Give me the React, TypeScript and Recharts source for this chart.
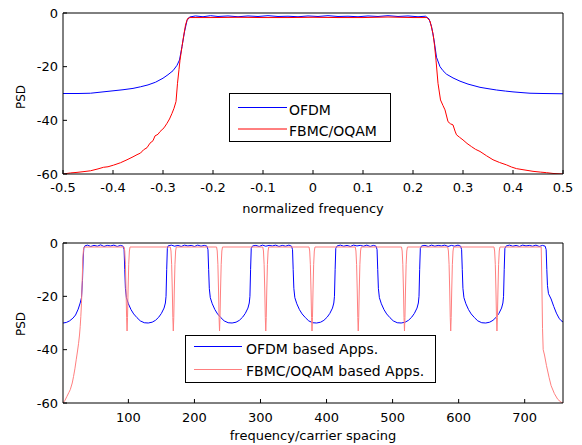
import React from 'react';
import { LineChart, Line, XAxis, YAxis } from 'recharts';

// tick labels
const normFreqTicks = [-0.5, -0.4, -0.3, -0.2, -0.1, 0, 0.1, 0.2, 0.3, 0.4, 0.5];
const spacingTicks = [100, 200, 300, 400, 500, 600, 700];
const psdTicks = [-60, -40, -20, 0];

// top panel: single carrier, [normalized frequency, PSD dB]
const ofdmPsd: [number, number][] = [
  [-0.5, -30], [-0.47, -30], [-0.445, -29.9], [-0.42, -29.4], [-0.4, -29], [-0.38, -28.6],
  [-0.36, -28.1], [-0.345, -27.5], [-0.33, -26.8], [-0.315, -25.8], [-0.3, -24.3], [-0.29, -23],
  [-0.28, -21.5], [-0.272, -19.5], [-0.267, -17.5], [-0.262, -12.5], [-0.257, -7], [-0.252, -2.8],
  [-0.247, -1.5], [-0.235, -1.1], [-0.22, -1.4], [-0.205, -1.0], [-0.19, -1.3], [-0.17, -1.1],
  [-0.15, -1.4], [-0.13, -1.1], [-0.11, -1.3], [-0.09, -1.0], [-0.07, -1.3], [-0.05, -1.2],
  [-0.03, -1.4], [-0.01, -1.1], [0.01, -1.3], [0.03, -1.0], [0.05, -1.3], [0.07, -1.2],
  [0.09, -1.4], [0.11, -1.1], [0.13, -1.3], [0.15, -1.0], [0.17, -1.3], [0.19, -1.1],
  [0.21, -1.4], [0.225, -1.2], [0.232, -2.2], [0.237, -5], [0.242, -10], [0.247, -16.5],
  [0.254, -20], [0.26, -21.5], [0.267, -22.8], [0.28, -24.2], [0.294, -25.4], [0.31, -26.5],
  [0.334, -27.7], [0.35, -28.2], [0.367, -28.7], [0.385, -29.1], [0.4, -29.4], [0.42, -29.7],
  [0.434, -29.9], [0.46, -30], [0.5, -30.1],
];

const fbmcPsd: [number, number][] = [
  [-0.5, -60], [-0.485, -59.6], [-0.472, -59.4], [-0.458, -59.1], [-0.445, -58.8], [-0.43, -58.1],
  [-0.419, -57.5], [-0.41, -57.3], [-0.399, -56.7], [-0.385, -55.8], [-0.372, -54.7], [-0.36, -53.6],
  [-0.352, -52.8], [-0.345, -52.2], [-0.339, -51.0], [-0.332, -50.2], [-0.326, -48.5], [-0.32, -47.6],
  [-0.316, -45.8], [-0.31, -45.2], [-0.306, -44.2], [-0.298, -42.8], [-0.292, -41.1], [-0.287, -39.5],
  [-0.282, -37.4], [-0.278, -35.5], [-0.274, -33], [-0.271, -26.2], [-0.268, -21], [-0.266, -17.6],
  [-0.262, -12.5], [-0.259, -8.9], [-0.255, -4.5], [-0.251, -2.1], [-0.246, -1.7], [-0.2, -1.7],
  [-0.15, -1.6], [-0.1, -1.7], [-0.05, -1.7], [0, -1.6], [0.05, -1.7], [0.1, -1.7],
  [0.15, -1.5], [0.2, -1.7], [0.228, -1.7], [0.234, -3], [0.24, -7.7], [0.243, -12],
  [0.246, -17.6], [0.25, -26.2], [0.255, -32.4], [0.26, -34.5], [0.264, -36.1], [0.27, -40.5],
  [0.275, -41.3], [0.28, -41.7], [0.284, -44], [0.287, -45.4], [0.293, -46.3], [0.3, -47.3],
  [0.308, -48.6], [0.317, -49.8], [0.325, -50.8], [0.334, -51.6], [0.347, -53.2], [0.36, -54.7],
  [0.373, -55.7], [0.387, -56.6], [0.397, -57.4], [0.407, -58], [0.42, -58.4], [0.44, -59],
  [0.455, -59.3], [0.467, -59.5], [0.48, -59.8], [0.5, -60],
];

// bottom panel: several apps side by side, [frequency / carrier spacing, PSD dB]
const ofdmApps: [number, number][] = [
  [1, -30], [6, -29.8], [11, -29.2], [16, -28.2], [20, -27], [24, -24.8], [27, -22.5], [29, -20.5],
  [30.5, -14], [31.5, -6], [32.5, -2],
  [34, -1.1], [38, -0.8], [43, -1.3], [48, -0.9], [53, -1.2], [58, -0.7], [63, -1.3], [68, -0.9],
  [73, -1.1], [78, -0.8], [83, -1.3], [88, -0.9], [92, -1.2],
  [93.5, -2.5], [94.5, -10], [95.5, -17], [97, -20.5], [100, -22.8], [104, -25], [108, -26.6],
  [113, -28], [118, -29.2], [124, -29.9], [130, -30], [136, -29.7], [141, -29], [146, -27.8],
  [150, -26.4], [154, -24.4], [156, -22.5], [157, -20], [158, -10], [159, -2],
  [160, -1.1], [165, -0.8], [170, -1.2], [175, -0.9], [180, -1.3], [185, -0.8], [190, -1.1],
  [195, -0.9], [200, -1.3], [205, -0.8], [210, -1.2], [215, -0.9], [219, -1.2],
  [220.5, -2.5], [221.5, -10], [222.5, -17], [224, -20.5], [227, -22.8], [231, -25], [235, -26.6],
  [240, -28], [245, -29.2], [251, -29.9], [257, -30], [263, -29.7], [268, -29], [273, -27.8],
  [277, -26.4], [281, -24.4], [283, -22.5], [284, -20], [285, -10], [286, -2],
  [288, -1.1], [293, -0.9], [298, -1.3], [303, -0.8], [308, -1.2], [313, -0.9], [318, -1.1],
  [323, -0.8], [328, -1.3], [333, -0.9], [338, -1.2], [343, -0.8], [347, -1.2],
  [348.5, -2.5], [349.5, -10], [350.5, -17], [352, -20.5], [355, -22.8], [359, -25], [363, -26.6],
  [368, -28], [373, -29.2], [379, -29.9], [385, -30], [391, -29.7], [396, -29], [401, -27.8],
  [405, -26.4], [409, -24.4], [411, -22.5], [412, -20], [413, -10], [414, -2],
  [416, -1.1], [421, -0.8], [426, -1.2], [431, -0.9], [436, -1.3], [441, -0.8], [446, -1.1],
  [451, -0.9], [456, -1.2], [461, -0.8], [466, -1.3], [471, -0.9], [475, -1.2],
  [476.5, -2.5], [477.5, -10], [478.5, -17], [480, -20.5], [483, -22.8], [487, -25], [491, -26.6],
  [496, -28], [501, -29.2], [507, -29.9], [513, -30], [519, -29.7], [524, -29], [529, -27.8],
  [533, -26.4], [537, -24.4], [539, -22.5], [540, -20], [541, -10], [542, -2],
  [544, -1.1], [549, -0.9], [554, -1.3], [559, -0.8], [564, -1.2], [569, -0.9], [574, -1.1],
  [579, -0.8], [584, -1.3], [589, -0.9], [594, -1.2], [599, -0.8], [603, -1.2],
  [604.5, -2.5], [605.5, -10], [606.5, -17], [608, -20.5], [611, -22.8], [615, -25], [619, -26.6],
  [624, -28], [629, -29.2], [635, -29.9], [641, -30], [647, -29.7], [652, -29], [657, -27.8],
  [661, -26.4], [665, -24.4], [667, -22.5], [668, -20], [669, -10], [670, -2],
  [672, -1.1], [677, -0.8], [682, -1.2], [687, -0.9], [692, -1.3], [697, -0.8], [702, -1.1],
  [707, -0.9], [712, -1.2], [717, -0.8], [722, -1.3], [727, -0.9], [731, -1.2],
  [732.5, -2.5], [733.5, -10], [734.5, -16], [736, -19], [740, -21], [744, -23.8], [748, -26.3],
  [752, -28.2], [755, -29.1], [758, -29.6],
];

const fbmcApps: [number, number][] = [
  [1, -60], [4, -59], [7, -57.5], [10, -56], [12, -55], [15, -52.5], [17, -50], [19, -47.2],
  [21, -43.8], [23, -40.5], [24.6, -37.6], [26, -34.5], [27, -31.4], [28, -27.5], [29, -22.6],
  [30, -15], [31, -6], [32, -2.5], [33, -1.5],
  [93.5, -1.5], [94.5, -3], [95.5, -8], [96.5, -18], [97.3, -28], [98, -33], [98.7, -28],
  [99.5, -18], [100.5, -8], [101.5, -3], [102.5, -1.5],
  [163.5, -1.5], [164.5, -3], [165.5, -8], [166.5, -18], [167.3, -28], [168, -33], [168.7, -28],
  [169.5, -18], [170.5, -8], [171.5, -3], [172.5, -1.5],
  [233.5, -1.5], [234.5, -3], [235.5, -8], [236.5, -18], [237.3, -28], [238, -33], [238.7, -28],
  [239.5, -18], [240.5, -8], [241.5, -3], [242.5, -1.5],
  [303.5, -1.5], [304.5, -3], [305.5, -8], [306.5, -18], [307.3, -28], [308, -33], [308.7, -28],
  [309.5, -18], [310.5, -8], [311.5, -3], [312.5, -1.5],
  [373.5, -1.5], [374.5, -3], [375.5, -8], [376.5, -18], [377.3, -28], [378, -33], [378.7, -28],
  [379.5, -18], [380.5, -8], [381.5, -3], [382.5, -1.5],
  [443.5, -1.5], [444.5, -3], [445.5, -8], [446.5, -18], [447.3, -28], [448, -33], [448.7, -28],
  [449.5, -18], [450.5, -8], [451.5, -3], [452.5, -1.5],
  [513.5, -1.5], [514.5, -3], [515.5, -8], [516.5, -18], [517.3, -28], [518, -33], [518.7, -28],
  [519.5, -18], [520.5, -8], [521.5, -3], [522.5, -1.5],
  [583.5, -1.5], [584.5, -3], [585.5, -8], [586.5, -18], [587.3, -28], [588, -33], [588.7, -28],
  [589.5, -18], [590.5, -8], [591.5, -3], [592.5, -1.5],
  [653.5, -1.5], [654.5, -3], [655.5, -8], [656.5, -18], [657.3, -28], [658, -33], [658.7, -28],
  [659.5, -18], [660.5, -8], [661.5, -3], [662.5, -1.5],
  [725, -1.5], [726, -15], [727, -32], [728, -40], [730, -42], [733, -46], [737, -50.5],
  [740, -53.5], [745, -56.5], [750, -58.6], [755, -59.7], [758, -60],
];

const toRows = (pts: [number, number][]) => pts.map(([x, y]) => ({ x, y }));

const BLUE = '#0000ff';
const FONT = 'DejaVu Sans';

type PanelProps = {
  height: number;
  margin: { top: number; right: number; bottom: number; left: number };
  xDomain: [number, number];
  xTicks: number[];
  ofdm: [number, number][];
  fbmc: [number, number][];
  fbmcColor: string;
  xTitle: string;
  xTitleY: number;
  yTitleY: number;
  xTickMargin: number;
};

function Panel(p: PanelProps) {
  const fmt = (v: number) => String(v);
  return (
    <LineChart width={582} height={p.height} margin={p.margin}>
      <XAxis
        xAxisId="b"
        type="number"
        dataKey="x"
        domain={p.xDomain}
        allowDataOverflow
        ticks={p.xTicks}
        interval={0}
        tickFormatter={fmt}
        height={40}
        tickSize={-4}
        tickMargin={p.xTickMargin}
        stroke="#000"
        tick={{ fill: '#000', fontSize: 13 }}
        label={() => (
          <text x={313} y={p.xTitleY} textAnchor="middle" fontSize={13} fill="#000">
            {p.xTitle}
          </text>
        )}
      />
      <XAxis
        xAxisId="t"
        orientation="top"
        type="number"
        dataKey="x"
        domain={p.xDomain}
        allowDataOverflow
        ticks={p.xTicks}
        interval={0}
        height={1}
        tickSize={-4}
        tick={false}
        stroke="#000"
      />
      <YAxis
        yAxisId="l"
        type="number"
        domain={[-60, 0]}
        allowDataOverflow
        ticks={psdTicks}
        interval={0}
        width={40}
        tickSize={-4}
        tickMargin={9}
        stroke="#000"
        tick={{ fill: '#000', fontSize: 13 }}
        label={() => (
          <text
            x={24.5}
            y={p.yTitleY}
            transform={`rotate(-90, 24.5, ${p.yTitleY})`}
            textAnchor="middle"
            fontSize={12}
            fill="#000"
          >
            PSD
          </text>
        )}
      />
      <YAxis
        yAxisId="r"
        orientation="right"
        type="number"
        domain={[-60, 0]}
        allowDataOverflow
        ticks={psdTicks}
        interval={0}
        width={1}
        tickSize={-4}
        tick={false}
        stroke="#000"
      />
      <Line
        xAxisId="b"
        yAxisId="l"
        data={toRows(p.ofdm)}
        dataKey="y"
        type="linear"
        stroke={BLUE}
        strokeWidth={1}
        dot={false}
        isAnimationActive={false}
      />
      <Line
        xAxisId="b"
        yAxisId="l"
        data={toRows(p.fbmc)}
        dataKey="y"
        type="linear"
        stroke={p.fbmcColor}
        strokeWidth={1}
        dot={false}
        isAnimationActive={false}
      />
    </LineChart>
  );
}

type LegendProps = {
  left: number;
  top: number;
  width: number;
  height: number;
  lineX1: number;
  lineX2: number;
  textX: number;
  rows: { label: string; color: string; lineY: number; textY: number }[];
};

// MATLAB style boxed legend, drawn as an overlay
function BoxLegend(l: LegendProps) {
  return (
    <svg
      width={l.width + 1}
      height={l.height + 1}
      style={{ position: 'absolute', left: l.left, top: l.top }}
    >
      <rect x={0.5} y={0.5} width={l.width} height={l.height} fill="#fff" stroke="#000" strokeWidth={1} />
      {l.rows.map((r) => (
        <g key={r.label}>
          <line x1={l.lineX1} x2={l.lineX2} y1={r.lineY} y2={r.lineY} stroke={r.color} strokeWidth={1} />
          <text x={l.textX} y={r.textY} fontSize={14} fill="#000">
            {r.label}
          </text>
        </g>
      ))}
    </svg>
  );
}

export default function App() {
  return (
    <div
      style={{
        position: 'fixed',
        left: 0,
        top: 0,
        width: 582,
        height: 445,
        background: '#fff',
        fontFamily: FONT,
      }}
    >
      <div style={{ position: 'absolute', left: 0, top: 0 }}>
        <Panel
          height={222}
          margin={{ top: 12, right: 18, bottom: 8, left: 23 }}
          xDomain={[-0.5, 0.5]}
          xTicks={normFreqTicks}
          ofdm={ofdmPsd}
          fbmc={fbmcPsd}
          fbmcColor="#ff0000"
          xTitle="normalized frequency"
          xTitleY={213}
          yTitleY={97}
          xTickMargin={13}
        />
      </div>
      <div style={{ position: 'absolute', left: 0, top: 222 }}>
        <Panel
          height={223}
          margin={{ top: 20, right: 18, bottom: 2, left: 23 }}
          xDomain={[1, 758]}
          xTicks={spacingTicks}
          ofdm={ofdmApps}
          fbmc={fbmcApps}
          fbmcColor="#ff7f7f"
          xTitle="frequency/carrier spacing"
          xTitleY={218}
          yTitleY={102}
          xTickMargin={14}
        />
      </div>
      <BoxLegend
        left={229}
        top={93}
        width={161}
        height={48}
        lineX1={9}
        lineX2={58}
        textX={60}
        rows={[
          { label: 'OFDM', color: BLUE, lineY: 14.5, textY: 21.5 },
          { label: 'FBMC/OQAM', color: '#ff0000', lineY: 36, textY: 43 },
        ]}
      />
      <BoxLegend
        left={185}
        top={335}
        width={250}
        height={47}
        lineX1={9}
        lineX2={57}
        textX={61}
        rows={[
          { label: 'OFDM based Apps.', color: BLUE, lineY: 11.5, textY: 18.5 },
          { label: 'FBMC/OQAM based Apps.', color: '#ff7f7f', lineY: 34.5, textY: 40.5 },
        ]}
      />
    </div>
  );
}
